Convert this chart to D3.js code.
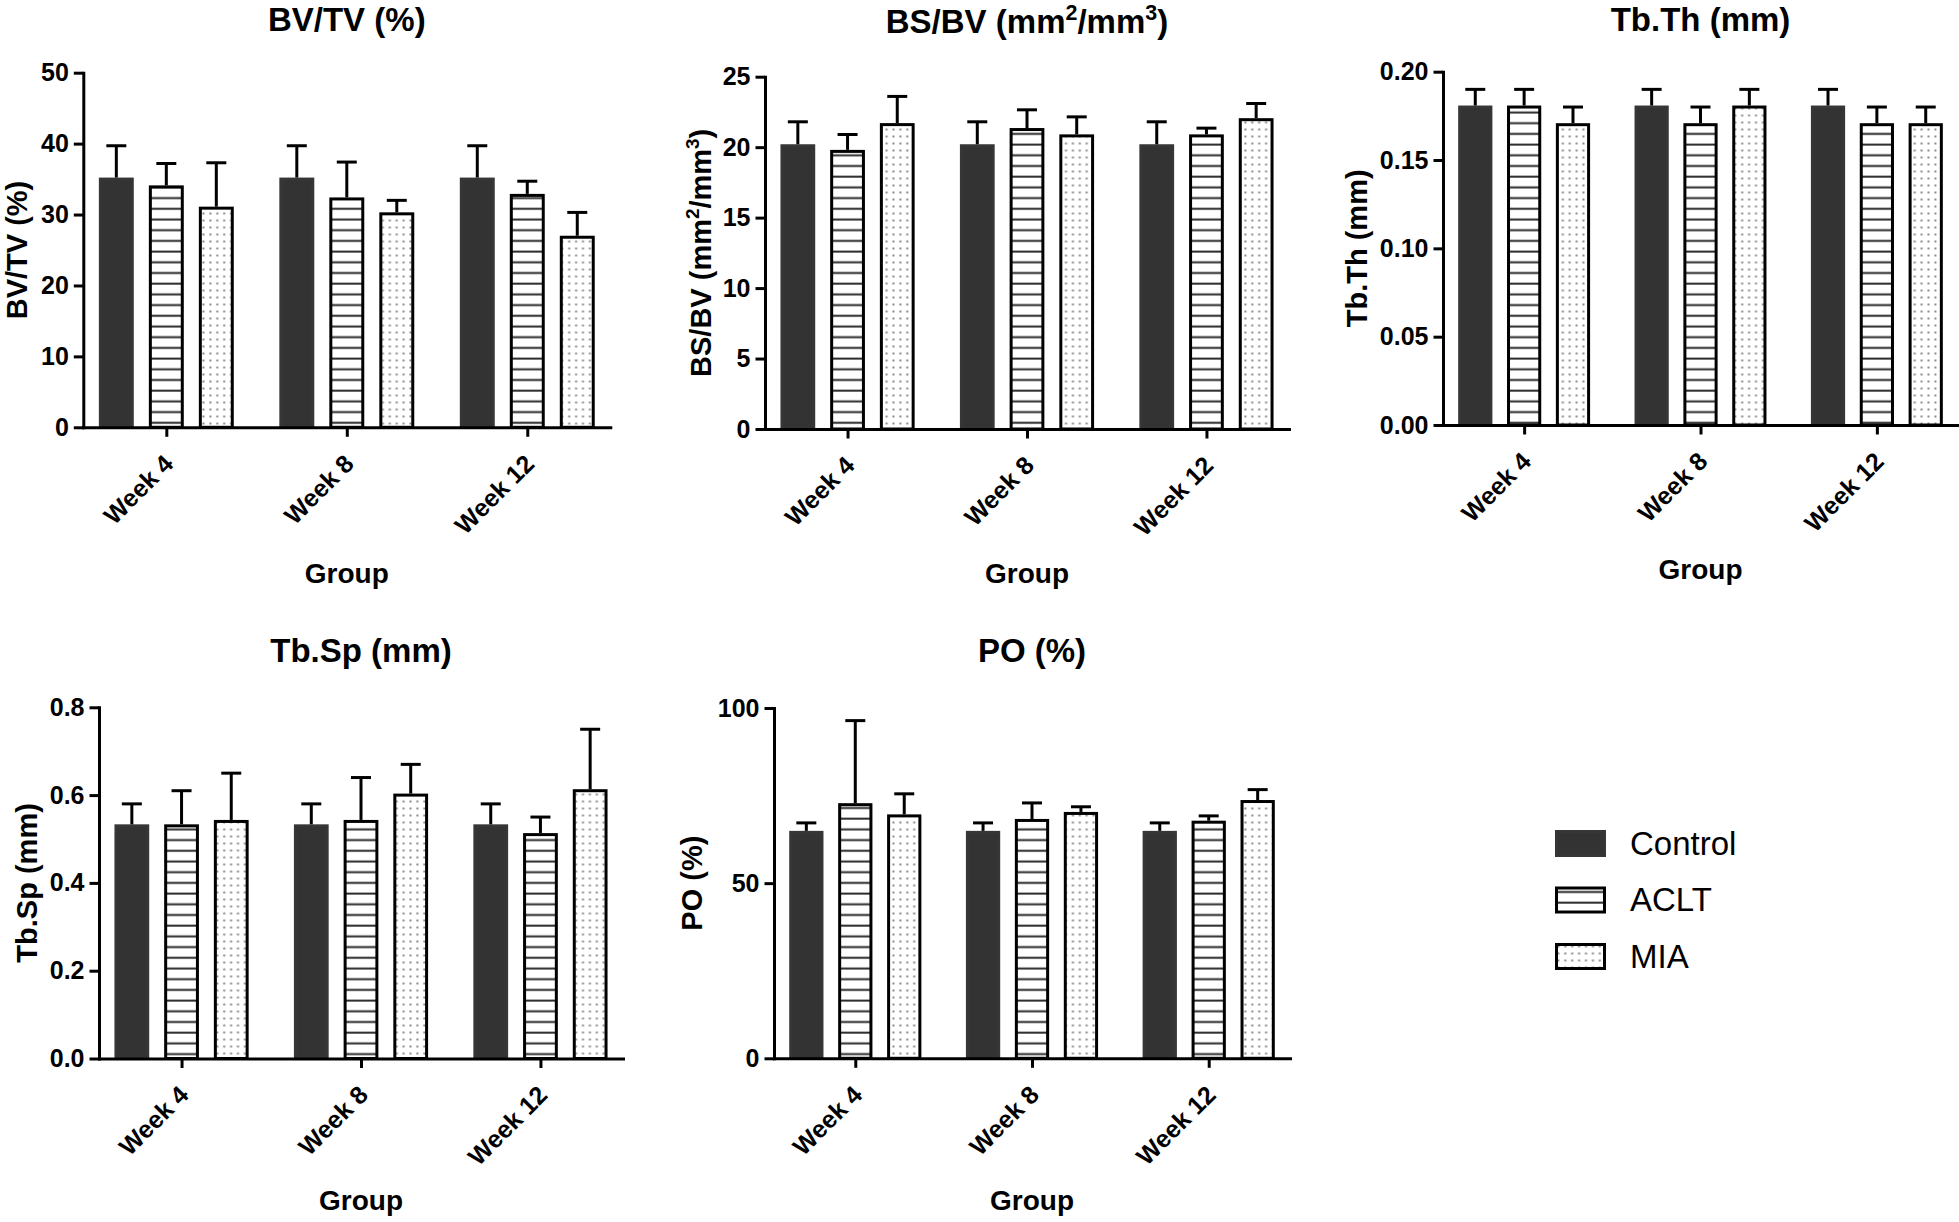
<!DOCTYPE html>
<html>
<head>
<meta charset="utf-8">
<script src="https://cdn.jsdelivr.net/npm/d3@7"></script>
<style>
  html, body { margin: 0; padding: 0; background: #fff; }
  svg { display: block; font-family: "Liberation Sans", Arial, Helvetica, sans-serif; }
</style>
</head>
<body>
<svg id="chart" width="1959" height="1222"></svg>
<script>
const groups = ["Week 4", "Week 8", "Week 12"];
const series = ["Control", "ACLT", "MIA"];

// rows: Control, ACLT, MIA -- columns: Week 4, Week 8, Week 12
const bvtvMean = [[35.0, 35.0, 35.0], [33.9, 32.2, 32.7], [30.9, 30.1, 26.8]];
const bvtvSd = [[4.7, 4.7, 4.7], [3.3, 5.2, 2.0], [6.4, 1.9, 3.5]];
const bvtvTicks = [0, 10, 20, 30, 40, 50];

const bsbvMean = [[20.1, 20.1, 20.1], [19.7, 21.25, 20.8], [21.6, 20.8, 21.95]];
const bsbvSd = [[1.7, 1.7, 1.7], [1.2, 1.4, 0.55], [2.0, 1.35, 1.15]];
const bsbvTicks = [0, 5, 10, 15, 20, 25];

const tbthMean = [[0.18, 0.18, 0.18], [0.18, 0.17, 0.17], [0.17, 0.18, 0.17]];
const tbthSd = [[0.01, 0.01, 0.01], [0.01, 0.01, 0.01], [0.01, 0.01, 0.01]];
const tbthTicks = [0, 0.05, 0.10, 0.15, 0.20];

const tbspMean = [[0.53, 0.53, 0.53], [0.53, 0.54, 0.51], [0.54, 0.60, 0.61]];
const tbspSd = [[0.05, 0.05, 0.05], [0.08, 0.10, 0.04], [0.11, 0.07, 0.14]];
const tbspTicks = [0, 0.2, 0.4, 0.6, 0.8];

const poMean = [[64.5, 64.5, 64.5], [72.4, 67.9, 67.4], [69.2, 69.9, 73.3]];
const poSd = [[2.7, 2.7, 2.7], [24.0, 5.0, 1.8], [6.3, 1.9, 3.4]];
const poTicks = [0, 50, 100];

const svg = d3.select("#chart");
const defs = svg.append("defs");

// horizontal stripes for ACLT
const stripes = defs.append("pattern")
  .attr("id", "stripes")
  .attr("patternUnits", "userSpaceOnUse")
  .attr("width", 10).attr("height", 10.7);
stripes.append("rect").attr("width", 10).attr("height", 10.7).attr("fill", "#fff");
stripes.append("rect").attr("y", 4.5).attr("width", 10).attr("height", 2).attr("fill", "#2b2b2b");

// dots for MIA
const dots = defs.append("pattern")
  .attr("id", "dots")
  .attr("patternUnits", "userSpaceOnUse")
  .attr("width", 6.9).attr("height", 7);
dots.append("rect").attr("width", 6.9).attr("height", 7).attr("fill", "#fff");
dots.append("rect").attr("x", 2.4).attr("y", 2.5).attr("width", 2).attr("height", 2).attr("fill", "#8a8a8a");

const fills = { Control: "#333333", ACLT: "url(#stripes)", MIA: "url(#dots)" };
const strokes = { Control: "#363636", ACLT: "#000", MIA: "#000" };

// text with optional superscripts: parts = [[text, isSup], ...]
function richText(sel, parts, size) {
  parts.forEach(([t, sup], i) => {
    const prevSup = i > 0 && parts[i - 1][1];
    let dy = 0;
    if (sup) dy = -size * 0.4;
    else if (prevSup) dy = size * 0.4;
    sel.append("tspan")
      .attr("dy", dy)
      .style("font-size", (sup ? size * 0.65 : size) + "px")
      .text(t);
  });
}

function drawPanel(p) {
  const g = svg.append("g");

  const x = d3.scalePoint().domain(groups).range([p.x0, p.x1]).padding(0.46);
  const y = d3.scaleLinear().domain([0, p.ticks[p.ticks.length - 1]]).range([p.y0, p.yTop]);
  const step = x.step();
  const barStep = step * 0.277;
  const barW = step * 0.177;

  const rows = [];
  series.forEach((s, si) => {
    groups.forEach((grp, gi) => {
      rows.push({ s, si, grp, mean: p.mean[si][gi], sd: p.sd[si][gi] });
    });
  });
  const cx = d => x(d.grp) + (d.si - 1) * barStep;

  g.selectAll("rect.bar")
    .data(rows)
    .enter()
    .append("rect")
    .attr("class", "bar")
    .attr("x", d => cx(d) - barW / 2)
    .attr("y", d => y(d.mean))
    .attr("width", barW)
    .attr("height", d => y(0) - y(d.mean))
    .attr("fill", d => fills[d.s])
    .attr("stroke", d => strokes[d.s])
    .attr("stroke-width", 3);

  const err = g.selectAll("g.err")
    .data(rows)
    .enter()
    .append("g")
    .attr("class", "err")
    .attr("stroke", "#000")
    .attr("stroke-width", 3);
  err.append("line")
    .attr("x1", cx).attr("x2", cx)
    .attr("y1", d => y(d.mean) - 1.5)
    .attr("y2", d => y(d.mean + d.sd));
  err.append("line")
    .attr("x1", d => cx(d) - 10).attr("x2", d => cx(d) + 10)
    .attr("y1", d => y(d.mean + d.sd))
    .attr("y2", d => y(d.mean + d.sd));

  // y axis
  const yAxis = g.append("g")
    .attr("transform", `translate(${p.x0},0)`)
    .call(d3.axisLeft(y).tickValues(p.ticks).tickFormat(d3.format(p.fmt))
      .tickSize(9.5).tickSizeOuter(0).tickPadding(5));

  // x axis
  const xAxis = g.append("g")
    .attr("transform", `translate(0,${p.y0})`)
    .call(d3.axisBottom(x).tickSize(9.5).tickSizeOuter(0));
  xAxis.selectAll(".tick text")
    .attr("x", null).attr("y", null).attr("dy", null)
    .attr("text-anchor", "end")
    .attr("transform", "translate(8,38) rotate(-45)");

  [yAxis, xAxis].forEach(a => {
    a.attr("font-family", null).attr("font-size", null);
    a.selectAll("path, line").attr("stroke", "#000").attr("stroke-width", 3);
    a.select(".domain").attr("stroke-linecap", "square");
    a.selectAll("text")
      .attr("fill", "#000")
      .style("font-size", "25px")
      .style("font-weight", "bold");
  });

  const mid = (p.x0 + p.x1) / 2;

  // title
  const title = g.append("text")
    .attr("x", mid).attr("y", p.titleY)
    .attr("text-anchor", "middle")
    .style("font-weight", "bold");
  richText(title, p.title, 33);

  // y label
  const ylab = g.append("text")
    .attr("transform", `translate(${p.ylabX},${(p.y0 + p.yTop) / 2}) rotate(-90)`)
    .attr("text-anchor", "middle")
    .style("font-weight", "bold");
  richText(ylab, p.title, 29);

  // x label
  g.append("text")
    .attr("x", x("Week 8")).attr("y", p.groupY)
    .attr("text-anchor", "middle")
    .style("font-size", "28px")
    .style("font-weight", "bold")
    .text("Group");
}

drawPanel({
  title: [["BV/TV (%)", 0]], mean: bvtvMean, sd: bvtvSd, ticks: bvtvTicks, fmt: "d",
  x0: 83.3, x1: 610.3, yTop: 72.7, y0: 427.3, titleY: 31, groupY: 583, ylabX: 27
});
drawPanel({
  title: [["BS/BV (mm", 0], ["2", 1], ["/mm", 0], ["3", 1], [")", 0]],
  mean: bsbvMean, sd: bsbvSd, ticks: bsbvTicks, fmt: "d",
  x0: 765, x1: 1289, yTop: 76.7, y0: 429, titleY: 33, groupY: 583, ylabX: 711
});
drawPanel({
  title: [["Tb.Th (mm)", 0]], mean: tbthMean, sd: tbthSd, ticks: tbthTicks, fmt: ".2f",
  x0: 1443, x1: 1958, yTop: 71.7, y0: 425, titleY: 31, groupY: 579, ylabX: 1367
});
drawPanel({
  title: [["Tb.Sp (mm)", 0]], mean: tbspMean, sd: tbspSd, ticks: tbspTicks, fmt: ".1f",
  x0: 99, x1: 623, yTop: 707.3, y0: 1058.5, titleY: 661.7, groupY: 1210, ylabX: 36.7
});
drawPanel({
  title: [["PO (%)", 0]], mean: poMean, sd: poSd, ticks: poTicks, fmt: "d",
  x0: 774, x1: 1290, yTop: 708, y0: 1058.3, titleY: 661.5, groupY: 1210, ylabX: 702
});

// legend
const legend = svg.append("g").attr("transform", "translate(1555,830)");
const item = legend.selectAll("g")
  .data(series)
  .enter()
  .append("g")
  .attr("transform", (d, i) => `translate(0,${i * 56.5})`);
item.append("rect")
  .attr("x", 1.5).attr("y", 1.5)
  .attr("width", 48).attr("height", 24)
  .attr("fill", d => fills[d])
  .attr("stroke", d => strokes[d])
  .attr("stroke-width", 3);
item.append("text")
  .attr("x", 75).attr("y", 24.5)
  .style("font-size", "33px")
  .attr("fill", "#000")
  .text(d => d);
</script>
</body>
</html>
